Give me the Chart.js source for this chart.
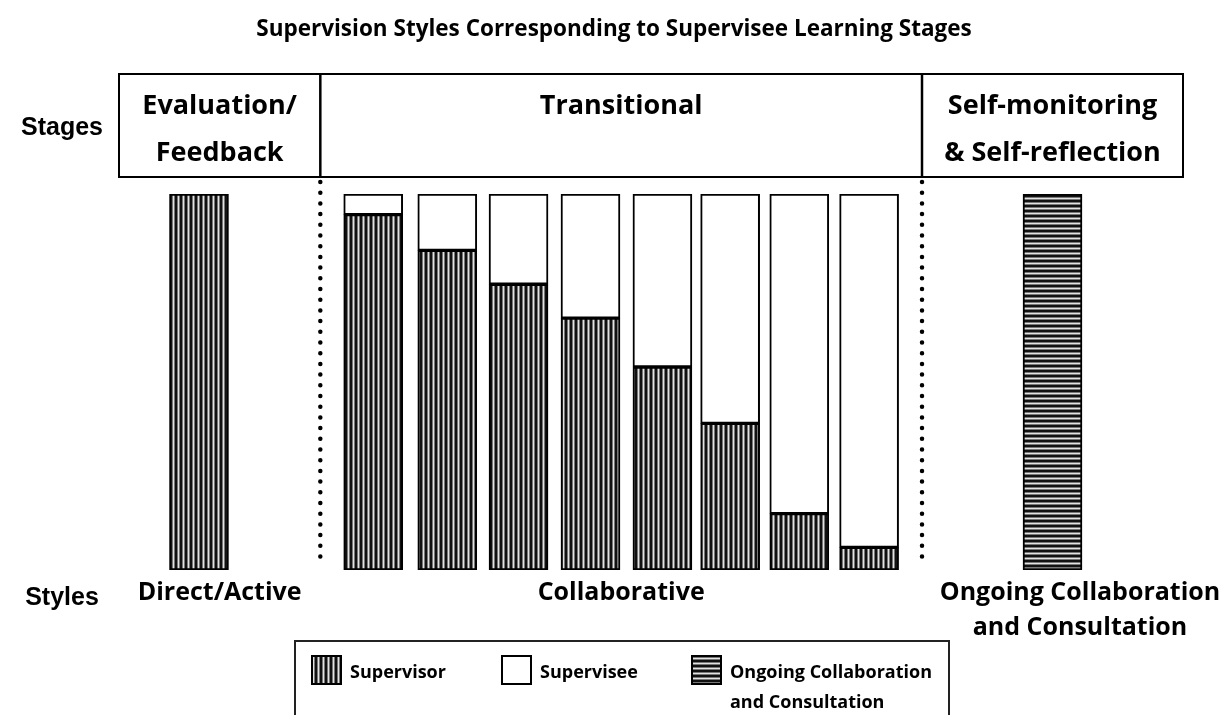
<!DOCTYPE html>
<html>
<head>
<meta charset="utf-8">
<title>Supervision Styles</title>
<script src="https://cdn.jsdelivr.net/npm/chart.js@4.4.1/dist/chart.umd.min.js"></script>
<style>
  html, body { margin: 0; padding: 0; background: #fff; }
  #chart { display: block; }
</style>
</head>
<body>
<canvas id="chart" width="1227" height="715"></canvas>
<script>
// bars, left to right: one for the first stage, eight for the transition, one for the last stage
const barPositions = [0, 2.47, 3.52, 4.53, 5.55, 6.57, 7.53, 8.51, 9.5, 12.1];
const supervisorShare = [100, 94.5, 85, 76, 67, 54, 39, 15, 6, null];
const superviseeShare = [null, 5.5, 15, 24, 33, 46, 61, 85, 94, null];
const ongoingShare = [null, null, null, null, null, null, null, null, null, 100];

const chartTitle = 'Supervision Styles Corresponding to Supervisee Learning Stages';
const stageNames = [['Evaluation/', 'Feedback'], ['Transitional'], ['Self-monitoring', '& Self-reflection']];
const styleNames = [['Direct/Active'], ['Collaborative'], ['Ongoing Collaboration', 'and Consultation']];
const stageBreaks = [1.72, 10.25];
const legendLabels = [['Supervisor'], ['Supervisee'], ['Ongoing Collaboration', 'and Consultation']];

const calibri = '"Open Sans", "Noto Sans", sans-serif';
const arial = '"Liberation Sans", Arial, sans-serif';

function stripes(vertical) {
  const tile = document.createElement('canvas');
  tile.width = 5;
  tile.height = 5;
  const c = tile.getContext('2d');
  const shades = ['#111', '#111', '#777', '#e2e2e2', '#777'];
  shades.forEach((shade, i) => {
    c.fillStyle = shade;
    if (vertical) c.fillRect(i, 0, 1, 5);
    else c.fillRect(0, i, 5, 1);
  });
  return c.createPattern(tile, 'repeat');
}

const vStripes = stripes(true);
const hStripes = stripes(false);

function points(values) {
  return barPositions.map((x, i) => ({ x: x, y: values[i] }));
}

function drawLines(ctx, lines, cx, cy, lineGap) {
  const start = cy - (lines.length - 1) * lineGap / 2;
  lines.forEach((line, i) => ctx.fillText(line, cx, start + i * lineGap));
}

const decorations = {
  id: 'decorations',
  afterDraw(chart) {
    const ctx = chart.ctx;
    const area = chart.chartArea;
    const x = chart.scales.x;
    const left = area.left;
    const right = area.right;
    const breaks = stageBreaks.map((v) => x.getPixelForValue(v));
    const edges = [left, breaks[0], breaks[1], right];
    const headTop = 74;
    const headBottom = 177;

    ctx.save();
    ctx.fillStyle = '#000';
    ctx.textBaseline = 'middle';
    ctx.textAlign = 'center';

    // title
    ctx.font = 'bold 22.5px ' + calibri;
    ctx.fillText(chartTitle, 614, 30);

    // stage header box
    ctx.strokeStyle = '#000';
    ctx.lineWidth = 2;
    ctx.strokeRect(left, headTop, right - left, headBottom - headTop);
    ctx.lineWidth = 2.5;
    breaks.forEach((bx) => {
      ctx.beginPath();
      ctx.moveTo(bx, headTop);
      ctx.lineTo(bx, headBottom);
      ctx.stroke();
    });

    // dotted separators
    ctx.lineWidth = 4.5;
    ctx.lineCap = 'round';
    ctx.setLineDash([0, 10.7]);
    breaks.forEach((bx) => {
      ctx.beginPath();
      ctx.moveTo(bx, 182);
      ctx.lineTo(bx, 566);
      ctx.stroke();
    });
    ctx.setLineDash([]);

    ctx.font = 'bold 27px ' + calibri;
    stageNames.forEach((lines, i) => {
      const cx = (edges[i] + edges[i + 1]) / 2;
      if (lines.length === 1) ctx.fillText(lines[0], cx, 106);
      else drawLines(ctx, lines, cx, 130, 47);
    });

    ctx.font = 'bold 25px ' + calibri;
    const styleCenters = [(edges[0] + edges[1]) / 2, (edges[1] + edges[2]) / 2, 1080];
    styleNames.forEach((lines, i) => {
      ctx.fillText(lines[0], styleCenters[i], 593);
      if (lines[1]) ctx.fillText(lines[1], styleCenters[i], 628);
    });

    ctx.font = 'bold 25px ' + arial;
    ctx.fillText('Stages', 62, 128);
    ctx.fillText('Styles', 62, 598);

    // legend
    ctx.lineWidth = 2;
    ctx.strokeStyle = '#222';
    ctx.strokeRect(295, 641, 654, 90);
    const swatchX = [312, 502, 692];
    const fills = [vStripes, '#fff', hStripes];
    ctx.textAlign = 'left';
    ctx.font = 'bold 18px ' + calibri;
    legendLabels.forEach((lines, i) => {
      ctx.fillStyle = fills[i];
      ctx.fillRect(swatchX[i], 656, 29, 28);
      ctx.strokeStyle = '#000';
      ctx.strokeRect(swatchX[i], 656, 29, 28);
      ctx.fillStyle = '#000';
      lines.forEach((line, j) => ctx.fillText(line, swatchX[i] + 38, 673 + j * 30));
    });
    ctx.restore();
  }
};

const barStyle = {
  borderColor: '#000',
  borderWidth: 2,
  borderSkipped: false,
  barThickness: 59
};

new Chart(document.getElementById('chart'), {
  type: 'bar',
  data: {
    datasets: [
      Object.assign({ label: 'Supervisor', data: points(supervisorShare), backgroundColor: vStripes }, barStyle),
      Object.assign({ label: 'Supervisee', data: points(superviseeShare), backgroundColor: '#fff' }, barStyle),
      Object.assign({ label: 'Ongoing Collaboration and Consultation', data: points(ongoingShare), backgroundColor: hStripes }, barStyle)
    ]
  },
  options: {
    responsive: false,
    animation: false,
    layout: { padding: { left: 119, right: 44, top: 194, bottom: 145 } },
    scales: {
      x: { type: 'linear', min: -1.134, max: 13.95, offset: false, stacked: true, display: false },
      y: { min: 0, max: 100, stacked: true, display: false }
    },
    plugins: {
      legend: { display: false },
      tooltip: { enabled: false }
    }
  },
  plugins: [decorations]
});
</script>
</body>
</html>
